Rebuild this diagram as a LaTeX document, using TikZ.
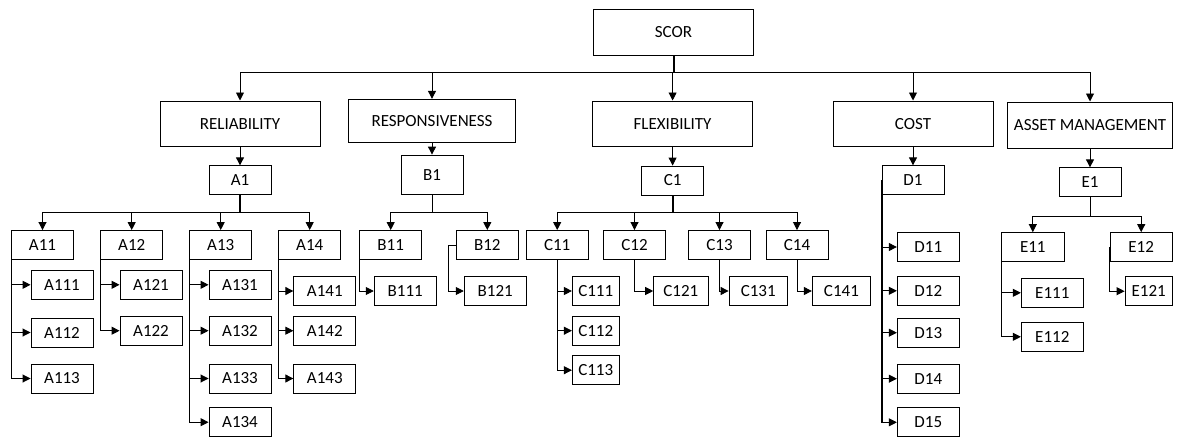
\documentclass[tikz,border=0pt]{standalone}
\usepackage{fontspec}
\setmainfont{Carlito}
\usetikzlibrary{arrows.meta}
\tikzset{
  box/.style={draw=black, line width=0.9pt, minimum height=29pt, minimum width=62pt,
              inner sep=0pt, font=\fontsize{17}{20}\selectfont},
  head/.style={box, minimum height=45.7pt, minimum width=160pt},
  link/.style={draw=black, line width=0.9pt, -{Triangle[length=8pt,width=8pt]}},
  trunk/.style={draw=black, line width=2pt},
}
\begin{document}
\begin{tikzpicture}[x=1pt,y=-1pt]
\clip (0,0) rectangle (1182,436);

% root and the five attributes
\node[head, minimum width=160.7pt] (scor) at (673.5,32.2) {SCOR};
\node[head] (rel) at (240,123.8) {RELIABILITY};
\node[head, minimum width=167.4pt, minimum height=43pt] (resp) at (432,120.8) {RESPONSIVENESS};
\node[head, minimum width=159.6pt] (flex) at (672.6,123.8) {FLEXIBILITY};
\node[head] (cost) at (913,123.8) {COST};
\node[head, minimum width=165.4pt, minimum height=46.7pt] (asset) at (1090,125.3) {ASSET MANAGEMENT};

% level 1 metrics
\node[box] (A1) at (240,180.3) {A1};
\node[box, minimum height=39.3pt] (B1) at (432,174.7) {B1};
\node[box] (C1) at (672.6,180.5) {C1};
\node[box] (D1) at (913,180.3) {D1};
\node[box] (E1) at (1090,182.3) {E1};

% level 2 metrics
\node[box] (A11) at (42.5,245) {A11};
\node[box] (A12) at (131.7,245) {A12};
\node[box] (A13) at (220.7,245) {A13};
\node[box] (A14) at (309.7,245) {A14};
\node[box] (B11) at (390.7,245) {B11};
\node[box] (B12) at (487.3,245) {B12};
\node[box, minimum width=62.3pt] (C11) at (557.2,245) {C11};
\node[box, minimum width=62.3pt] (C12) at (634.5,245) {C12};
\node[box, minimum width=62.3pt] (C13) at (719.5,245) {C13};
\node[box] (C14) at (797,245) {C14};
\node[box] (D11) at (928.3,247) {D11};
\node[box] (D12) at (928.3,290.8) {D12};
\node[box] (D13) at (928.3,332.7) {D13};
\node[box] (D14) at (928.3,378.7) {D14};
\node[box] (D15) at (928.3,422.3) {D15};
\node[box, minimum width=62.3pt] (E11) at (1032.8,247.1) {E11};
\node[box, minimum width=62.3pt] (E12) at (1141.2,247.1) {E12};

% level 3 metrics
\node[box] (A111) at (62,284.8) {A111};
\node[box] (A112) at (62,332.5) {A112};
\node[box] (A113) at (62,378.5) {A113};
\node[box] (A121) at (151,284.8) {A121};
\node[box] (A122) at (151,330.7) {A122};
\node[box] (A131) at (240,284.8) {A131};
\node[box] (A132) at (240,330.7) {A132};
\node[box] (A133) at (240,378.5) {A133};
\node[box] (A134) at (240,422.2) {A134};
\node[box] (A141) at (324.8,291) {A141};
\node[box] (A142) at (324.8,330.7) {A142};
\node[box] (A143) at (324.8,378.5) {A143};
\node[box] (B111) at (405.2,291) {B111};
\node[box] (B121) at (495.2,291) {B121};
\node[box, minimum width=46.7pt] (C111) at (595.7,291) {C111};
\node[box, minimum width=46.7pt] (C112) at (595.7,330.7) {C112};
\node[box, minimum width=46.7pt] (C113) at (595.7,370.2) {C113};
\node[box, minimum width=54.3pt] (C121) at (680.8,291) {C121};
\node[box, minimum width=58.3pt] (C131) at (758.2,291) {C131};
\node[box, minimum width=58.2pt] (C141) at (841.4,291) {C141};
\node[box] (E111) at (1052.3,292.8) {E111};
\node[box] (E112) at (1052.3,336.8) {E112};
\node[box, minimum width=47.3pt] (E121) at (1148.7,291.2) {E121};

% root bus
\path (scor.south) ++(0,16.7) coordinate (Sj);
\draw[trunk] (scor.south) -- (Sj);
\draw[link] (Sj) -| (rel.north);
\draw[link] (Sj) -| (resp.north);
\draw[link] (Sj) -| (flex.north);
\draw[link] (Sj) -| (cost.north);
\draw[link] (Sj) -| (asset.north);

% attribute to level 1
\draw[link] (rel.south) -- (A1.north);
\draw[link] (resp.south) -- (B1.north);
\draw[link] (flex.south) -- (C1.north);
\draw[link] (cost.south) -- (D1.north);
\draw[link] (asset.south) -- (E1.north);

% level 1 buses
\path (A1.south) ++(0,16.7) coordinate (Aj);
\draw[trunk] (A1.south) -- (Aj);
\foreach \n in {A11,A12,A13,A14} \draw[link] (Aj) -| (\n.north);
\path (B1.south) ++(0,17.4) coordinate (Bj);
\draw[link, -] (B1.south) -- (Bj);
\foreach \n in {B11,B12} \draw[link] (Bj) -| (\n.north);
\path (C1.south) ++(0,16.7) coordinate (Cj);
\draw[trunk] (C1.south) -- (Cj);
\foreach \n in {C11,C12,C13,C14} \draw[link] (Cj) -| (\n.north);
\path (E1.south) ++(0,18.7) coordinate (Ej);
\draw[link, -] (E1.south) -- (Ej);
\foreach \n in {E11,E12} \draw[link] (Ej) -| (\n.north);

% D1 spine
\draw[trunk] (D1.west) -- (D1.west |- D15.west);
\foreach \n in {D11,D12,D13,D14,D15} \draw[link] (D1.west) |- (\n.west);

% level 2 to level 3
\foreach \n in {A111,A112,A113} \draw[link] (A11.west) |- (\n.west);
\foreach \n in {A121,A122} \draw[link] (A12.west) |- (\n.west);
\foreach \n in {A131,A132,A133,A134} \draw[link] (A13.west) |- (\n.west);
\foreach \n in {A141,A142,A143} \draw[link] (A14.west) |- (\n.west);
\draw[link] (B11.west) |- (B111.west);
\draw[link] (B12.west) -- ++(-7.3,0) |- (B121.west);
\foreach \n in {C111,C112,C113} \draw[link] (C11.south) |- (\n.west);
\draw[link] (C12.south) |- (C121.west);
\draw[link] (C13.south) |- (C131.west);
\draw[link] (C14.south) |- (C141.west);
\foreach \n in {E111,E112} \draw[link] (E11.west) |- (\n.west);
\draw[link] (E12.west) |- (E121.west);
\end{tikzpicture}
\end{document}
